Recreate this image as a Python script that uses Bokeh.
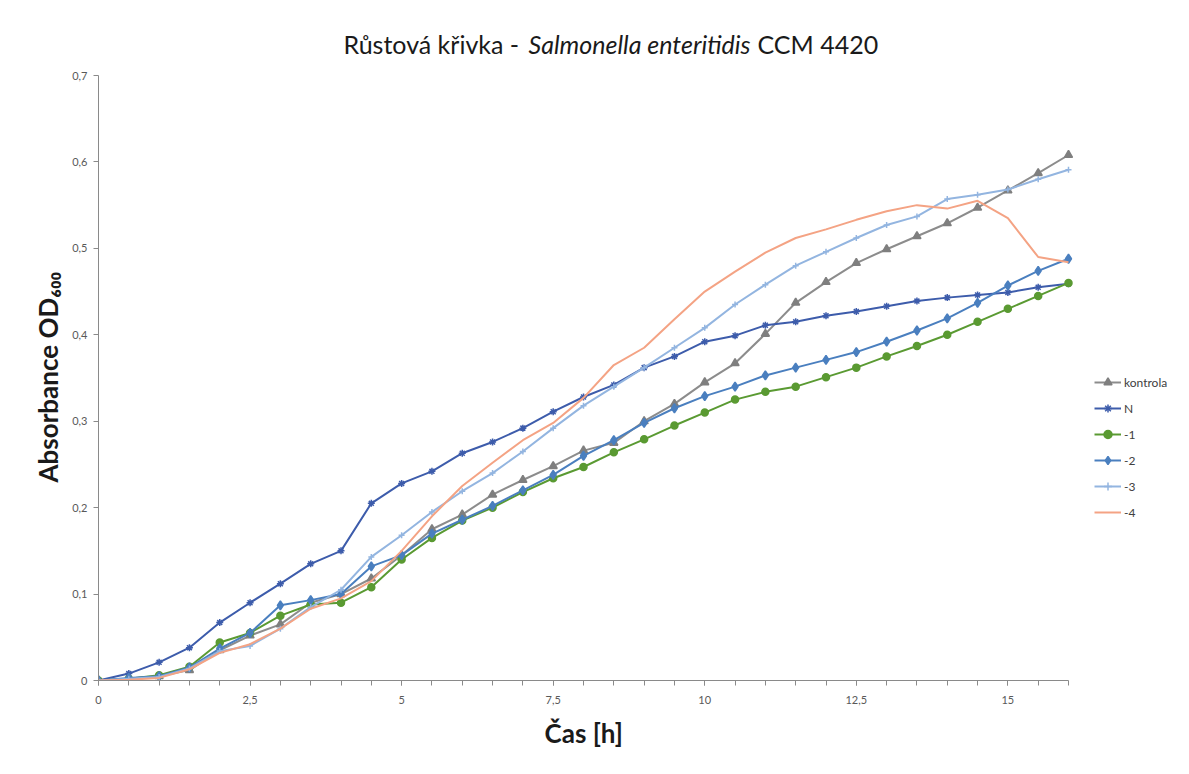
from bokeh.plotting import figure
from bokeh.models import (Range1d, FixedTicker, CustomJSTickFormatter, Label,
                          Legend, LegendItem, Title)
from bokeh.embed import file_html
from bokeh.resources import INLINE

# ---------------- data ----------------
time_h = [0, 0.5, 1, 1.5, 2, 2.5, 3, 3.5, 4, 4.5, 5, 5.5, 6, 6.5, 7, 7.5, 8,
          8.5, 9, 9.5, 10, 10.5, 11, 11.5, 12, 12.5, 13, 13.5, 14, 14.5, 15, 15.5, 16]

kontrola = [0, 0.002, 0.005, 0.012, 0.035, 0.052, 0.065, 0.090, 0.100, 0.118, 0.145,
            0.175, 0.192, 0.215, 0.232, 0.248, 0.266, 0.275, 0.300, 0.320, 0.345,
            0.367, 0.401, 0.437, 0.461, 0.483, 0.499, 0.514, 0.529, 0.547, 0.567,
            0.587, 0.608]
N = [0, 0.008, 0.021, 0.038, 0.067, 0.090, 0.112, 0.135, 0.150, 0.205, 0.228,
     0.242, 0.263, 0.276, 0.292, 0.311, 0.328, 0.342, 0.362, 0.375, 0.392,
     0.399, 0.411, 0.415, 0.422, 0.427, 0.433, 0.439, 0.443, 0.446, 0.449,
     0.455, 0.459]
m1 = [0, 0.002, 0.006, 0.016, 0.044, 0.055, 0.075, 0.088, 0.090, 0.108, 0.140,
      0.165, 0.185, 0.200, 0.218, 0.234, 0.247, 0.264, 0.279, 0.295, 0.310,
      0.325, 0.334, 0.340, 0.351, 0.362, 0.375, 0.387, 0.400, 0.415, 0.430,
      0.445, 0.460]
m2 = [0, 0.003, 0.005, 0.015, 0.037, 0.055, 0.087, 0.093, 0.100, 0.132, 0.145,
      0.170, 0.186, 0.202, 0.220, 0.238, 0.260, 0.278, 0.298, 0.315, 0.329,
      0.340, 0.353, 0.362, 0.371, 0.380, 0.392, 0.405, 0.419, 0.437, 0.457,
      0.474, 0.488]
m3 = [0, 0.002, 0.004, 0.014, 0.034, 0.040, 0.060, 0.085, 0.105, 0.143, 0.168,
      0.195, 0.219, 0.240, 0.265, 0.292, 0.318, 0.340, 0.362, 0.385, 0.408,
      0.435, 0.458, 0.480, 0.496, 0.512, 0.527, 0.537, 0.557, 0.562, 0.568,
      0.580, 0.591]
m4 = [0, 0.001, 0.003, 0.013, 0.032, 0.042, 0.060, 0.083, 0.095, 0.115, 0.150,
      0.190, 0.225, 0.252, 0.278, 0.298, 0.327, 0.365, 0.385, 0.418, 0.450,
      0.473, 0.495, 0.512, 0.522, 0.533, 0.543, 0.550, 0.546, 0.555, 0.535,
      0.490, 0.484]

series_names = ["kontrola", "N", "-1", "-2", "-3", "-4"]
x_ticks = [0, 2.5, 5, 7.5, 10, 12.5, 15]
x_minor = time_h
y_ticks = [0, 0.1, 0.2, 0.3, 0.4, 0.5, 0.6, 0.7]
x_max = 16
y_max = 0.7

# ---------------- figure ----------------
W, H = 1189, 774
FL, FB = 98, 680          # canvas px of x = 0 and y = 0
AX_TOP, AX_RIGHT = 75, 1068   # canvas px of y = 0.7 and x = 16
y_end = y_max * FB / (FB - AX_TOP)            # room above the axes for the title
x_end = x_max * (W - FL) / (AX_RIGHT - FL)    # room right of the axes for the legend

p = figure(width=W, height=H, x_range=Range1d(0, x_end), y_range=Range1d(0, y_end),
           output_backend="svg", toolbar_location=None, title=None,
           min_border_left=FL, min_border_right=0,
           min_border_top=0, min_border_bottom=H - FB)
p.outline_line_color = None
p.grid.visible = False
p.background_fill_color = "white"
p.border_fill_color = "white"

fmt = CustomJSTickFormatter(code="return String(tick).replace('.', ',');")
axis_col = "#8a8a8a"
for ax in (p.xaxis[0], p.yaxis[0]):
    ax.formatter = fmt
    ax.axis_line_color = axis_col
    ax.major_tick_line_color = axis_col
    ax.minor_tick_line_color = axis_col
    ax.major_tick_in = 0
    ax.major_tick_out = 5
    ax.minor_tick_in = 0
    ax.minor_tick_out = 5
    ax.major_label_text_font = "Lato"
    ax.major_label_text_font_size = "11px"
    ax.major_label_text_color = "#595959"
p.xaxis[0].ticker = FixedTicker(ticks=x_ticks, minor_ticks=x_minor)
p.yaxis[0].ticker = FixedTicker(ticks=y_ticks)
p.xaxis[0].bounds = (0, x_max)
p.yaxis[0].bounds = (0, y_max)
p.xaxis[0].major_label_standoff = 10
p.yaxis[0].major_label_standoff = 6

lab_style = dict(text_font="Lato", text_font_size="26px", text_font_style="bold",
                 text_color="#1a1a1a")
xlab = Title(text="Čas [h]", align="left", offset=544 - FL, standoff=17, **lab_style)
p.add_layout(xlab, "below")
ylab = Title(text="Absorbance  OD₆₀₀", align="left", offset=FB - 482, standoff=11,
             **lab_style)
p.add_layout(ylab, "left")

# ---------------- series ----------------
specs = [
    (kontrola, "#8c8c8c", "#7f7f7f", "triangle", 8),
    (N, "#3d5cab", "#3d5cab", "asterisk", 7),
    (m1, "#5a9a32", "#5a9a32", "circle", 7),
    (m2, "#4a7fbf", "#4a7fbf", "diamond", 9),
    (m3, "#93b5e0", "#93b5e0", "cross", 6),
    (m4, "#f4a384", None, None, 0),
]
items = []
for name, (vals, lc, mc, mk, sz) in zip(series_names, specs):
    r = [p.line(time_h, vals, line_color=lc, line_width=2)]
    if mk is not None:
        r.append(p.scatter(time_h, vals, marker=mk, size=sz, fill_color=mc,
                           line_color=mc, line_width=1.5))
    items.append(LegendItem(label=name, renderers=r))

legend = Legend(items=items, location=(1094 - FL, FB - 522))
legend.border_line_color = None
legend.background_fill_alpha = 0
legend.label_text_font = "Lato"
legend.label_text_font_size = "12px"
legend.label_text_color = "#404040"
legend.glyph_width = 27
legend.glyph_height = 20
legend.label_height = 20
legend.spacing = 6
legend.padding = 0
legend.margin = 0
legend.label_standoff = 3
p.add_layout(legend)

# ---------------- title (mixed upright / italic) ----------------
def fx(cx):
    return cx - FL

def fy(cy):
    return FB - cy

common = dict(x_units="screen", y_units="screen", text_font="Lato",
              text_baseline="middle", text_color="#1a1a1a", text_font_size="25px")
p.add_layout(Label(x=fx(525), y=fy(43), text="Růstová křivka - ", text_align="right", **common))
p.add_layout(Label(x=fx(528), y=fy(43), text="Salmonella enteritidis", text_align="left",
                   text_font_style="italic", **common))
p.add_layout(Label(x=fx(757), y=fy(43), text="CCM 4420", text_align="left", **common))

open("out.html", "w").write(file_html(p, INLINE))
